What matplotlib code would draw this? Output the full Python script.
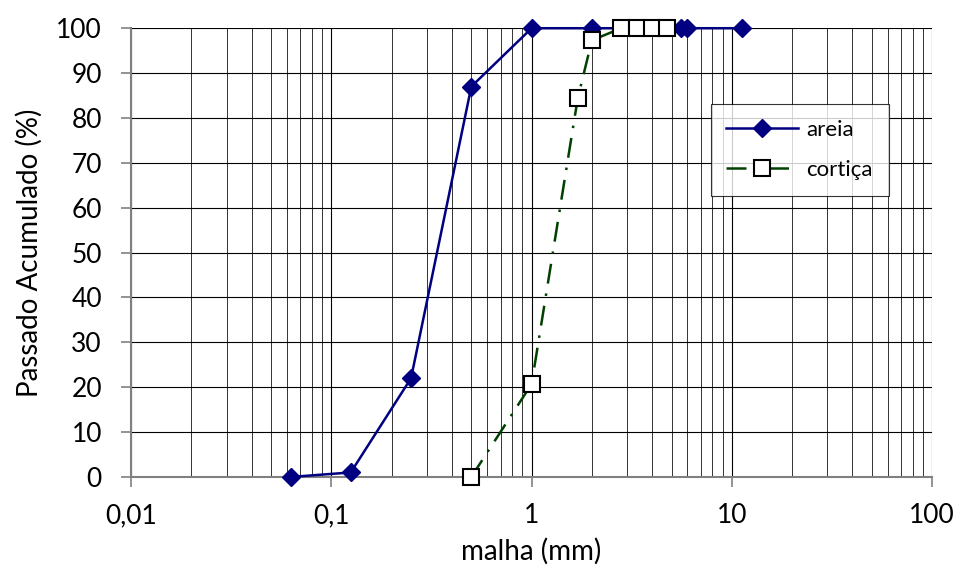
import matplotlib
matplotlib.use("Agg")
import matplotlib.pyplot as plt
from matplotlib.ticker import FixedLocator, LogLocator, NullFormatter, FuncFormatter

plt.rcParams['font.family'] = ['Lato', 'DejaVu Sans']

# peneiros (mm) e passado acumulado (%)
areia_x = [0.063, 0.125, 0.25, 0.5, 1, 2, 5.6, 6.0, 11.2]
areia_y = [0, 1, 22, 87, 100, 100, 100, 100, 100]
cortica_x = [0.5, 1, 1.7, 2, 2.8, 3.35, 4, 4.75]
cortica_y = [0, 20.7, 84.4, 97.3, 100, 100, 100, 100]

fig = plt.figure(figsize=(9.57, 5.76), dpi=100)
ax = fig.add_axes([0.137, 0.172, 0.837, 0.779])

ax.set_xscale('log')
ax.set_xlim(0.01, 100)
ax.set_ylim(0, 100)

ax.grid(True, which='major', axis='both', color='black', linewidth=0.8)
ax.grid(True, which='minor', axis='x', color='#333333', linewidth=0.7)
ax.xaxis.set_minor_locator(LogLocator(base=10, subs=range(2, 10)))
ax.xaxis.set_minor_formatter(NullFormatter())
ax.yaxis.set_major_locator(FixedLocator(range(0, 101, 10)))
ax.set_axisbelow(True)

ax.plot(areia_x, areia_y, color='#000080', linewidth=1.8, marker='D',
        markersize=9, markerfacecolor='#000080', markeredgecolor='#000080',
        label='areia', zorder=3, clip_on=False)
ax.plot(cortica_x, cortica_y, color='#004000', linewidth=1.8,
        linestyle=(0, (8, 4, 1, 4)), marker='s', markersize=11,
        markerfacecolor='white', markeredgecolor='black', markeredgewidth=1.5,
        label='cortiça', zorder=4, clip_on=False)

fmt = {0.01: '0,01', 0.1: '0,1', 1: '1', 10: '10', 100: '100'}
ax.xaxis.set_major_formatter(FuncFormatter(lambda v, p: fmt.get(round(v, 4), '')))
ax.tick_params(axis='both', which='major', labelsize=19, length=7, width=1.2,
               color='#808080', direction='out')
ax.tick_params(axis='x', which='minor', length=0)
ax.tick_params(axis='x', pad=12)
ax.tick_params(axis='y', pad=14)

for s in ax.spines.values():
    s.set_color('#808080')
    s.set_linewidth(1.5)
ax.spines['right'].set_visible(False)
ax.spines['top'].set_visible(False)

ax.set_xlabel('malha (mm)', fontsize=20, labelpad=7)
ax.set_ylabel('Passado Acumulado (%)', fontsize=20, labelpad=10)

leg = ax.legend(loc='upper left', bbox_to_anchor=(0.71, 0.855), fontsize=16,
                frameon=True, fancybox=False, edgecolor='black',
                handlelength=3.2, borderpad=0.7, labelspacing=0.9,
                handletextpad=0.4)
leg.get_frame().set_linewidth(0.8)

fig.savefig('out.png', dpi=100)
